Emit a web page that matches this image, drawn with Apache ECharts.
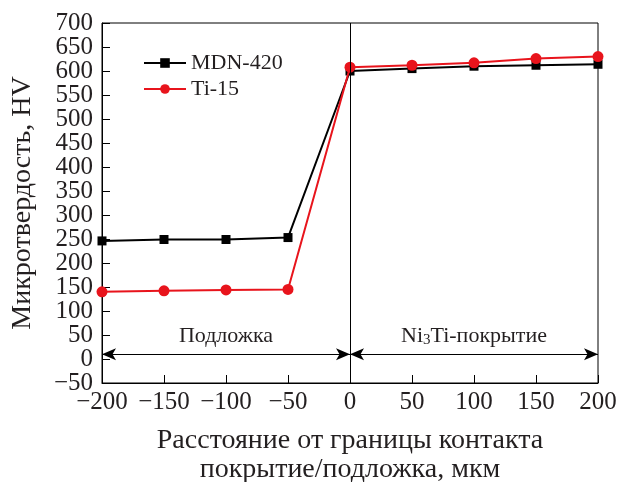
<!DOCTYPE html>
<html><head><meta charset="utf-8">
<script src="https://cdn.jsdelivr.net/npm/echarts@6/dist/echarts.min.js"></script>
<style>html,body{margin:0;padding:0;background:#fff}#c{width:620px;height:482px}</style>
</head><body><div id="c"></div>
<script>
const xValues = [-200, -150, -100, -50, 0, 50, 100, 150, 200];
const mdn420 = [246, 249, 249, 253, 600, 605, 610, 612, 614];
const ti15 = [140, 142, 144, 145, 608, 612, 617, 626, 630];
const seriesNames = ['MDN-420', 'Ti-15'];
const regionLabels = ['Подложка', 'Ni{sub|3}Ti-покрытие'];
const arrowY = 10;

const font = 'Liberation Serif';
const txt = '#231f20';
const fmt = v => v < 0 ? '\u2212' + Math.abs(v) : String(v);
const isEven = v => Math.round(v / 50) % 2 === 0;
const yLabelBase = {fontFamily: font, fontSize: 25, color: txt, margin: 9, hideOverlap: false,
  showMinLabel: true, showMaxLabel: true};
const chart = echarts.init(document.getElementById('c'));
chart.setOption({
  animation: false,
  textStyle: {fontFamily: font},
  grid: {left: 102, right: 22, top: 23, bottom: 99, show: true, borderColor: '#000', borderWidth: 1,
    containLabel: false, outerBoundsMode: 'none'},
  legend: {
    left: 138, top: 47, orient: 'vertical', itemGap: 4, itemWidth: 42, itemHeight: 12,
    textStyle: {fontFamily: font, fontSize: 22, color: txt},
    data: seriesNames
  },
  xAxis: {
    type: 'value', min: -200, max: 200, interval: 50,
    axisLine: {onZero: false, lineStyle: {color: '#000', width: 1}},
    axisTick: {inside: true, length: 8, lineStyle: {color: '#000'}},
    splitLine: {show: false},
    axisLabel: {fontFamily: font, fontSize: 25, color: txt, margin: 7,
      showMinLabel: true, showMaxLabel: true, hideOverlap: false,
      formatter: fmt},
    name: 'Расстояние от границы контакта\nпокрытие/подложка, мкм',
    nameLocation: 'middle', nameGap: 43,
    nameTextStyle: {fontFamily: font, fontSize: 28, color: txt, lineHeight: 29}
  },
  yAxis: [
    {
      type: 'value', min: -50, max: 700, interval: 50, position: 'left',
      axisLine: {onZero: false, lineStyle: {color: '#000', width: 1}},
      axisTick: {inside: true, length: 8, lineStyle: {color: '#000'}},
      splitLine: {show: false},
      axisLabel: Object.assign({}, yLabelBase, {formatter: v => isEven(v) ? fmt(v) : ''}),
      name: 'Микротвердость, HV', nameLocation: 'middle', nameGap: 65,
      nameTextStyle: {fontFamily: font, fontSize: 28, color: txt}
    },
    {
      type: 'value', min: -50, max: 700, interval: 50, position: 'left', offset: 0,
      axisLine: {show: false, onZero: false}, axisTick: {show: false},
      splitLine: {show: false},
      axisLabel: Object.assign({}, yLabelBase, {formatter: v => isEven(v) ? '' : fmt(v)})
    }
  ],
  series: [
    {
      name: seriesNames[0], type: 'line', data: xValues.map((x, i) => [x, mdn420[i]]),
      symbol: 'rect', symbolSize: 9, color: '#000',
      lineStyle: {color: '#000', width: 2}, itemStyle: {color: '#000'}, z: 3,
      markLine: {
        silent: true, symbol: ['none', 'none'], label: {show: false},
        lineStyle: {color: '#000', width: 1, type: 'solid'},
        data: [{xAxis: 0}]
      }
    },
    {
      name: seriesNames[1], type: 'line', data: xValues.map((x, i) => [x, ti15[i]]),
      symbol: 'circle', symbolSize: 11, color: '#e8141c',
      lineStyle: {color: '#e8141c', width: 2}, itemStyle: {color: '#e8141c'}, z: 4
    },
    {
      type: 'line', data: [], silent: true,
      markLine: {
        silent: true, symbol: ['arrow', 'arrow'], symbolSize: [9, 14],
        lineStyle: {color: '#000', width: 1, type: 'solid'}, label: {show: false},
        data: [
          [{coord: [-200, arrowY]}, {coord: [0, arrowY]}],
          [{coord: [0, arrowY]}, {coord: [200, arrowY]}]
        ]
      },
      markPoint: {
        silent: true, symbol: 'rect', symbolSize: 1, itemStyle: {color: 'transparent'},
        label: {show: true, position: 'inside', fontFamily: font, fontSize: 22, color: txt},
        data: [
          {coord: [-100, 47], value: regionLabels[0], label: {formatter: regionLabels[0]}},
          {coord: [100, 48], value: regionLabels[1], label: {formatter: regionLabels[1],
            rich: {sub: {fontFamily: font, fontSize: 15, color: txt, padding: [9,0,0,0]}}}}
        ]
      }
    }
  ]
});
</script></body></html>
